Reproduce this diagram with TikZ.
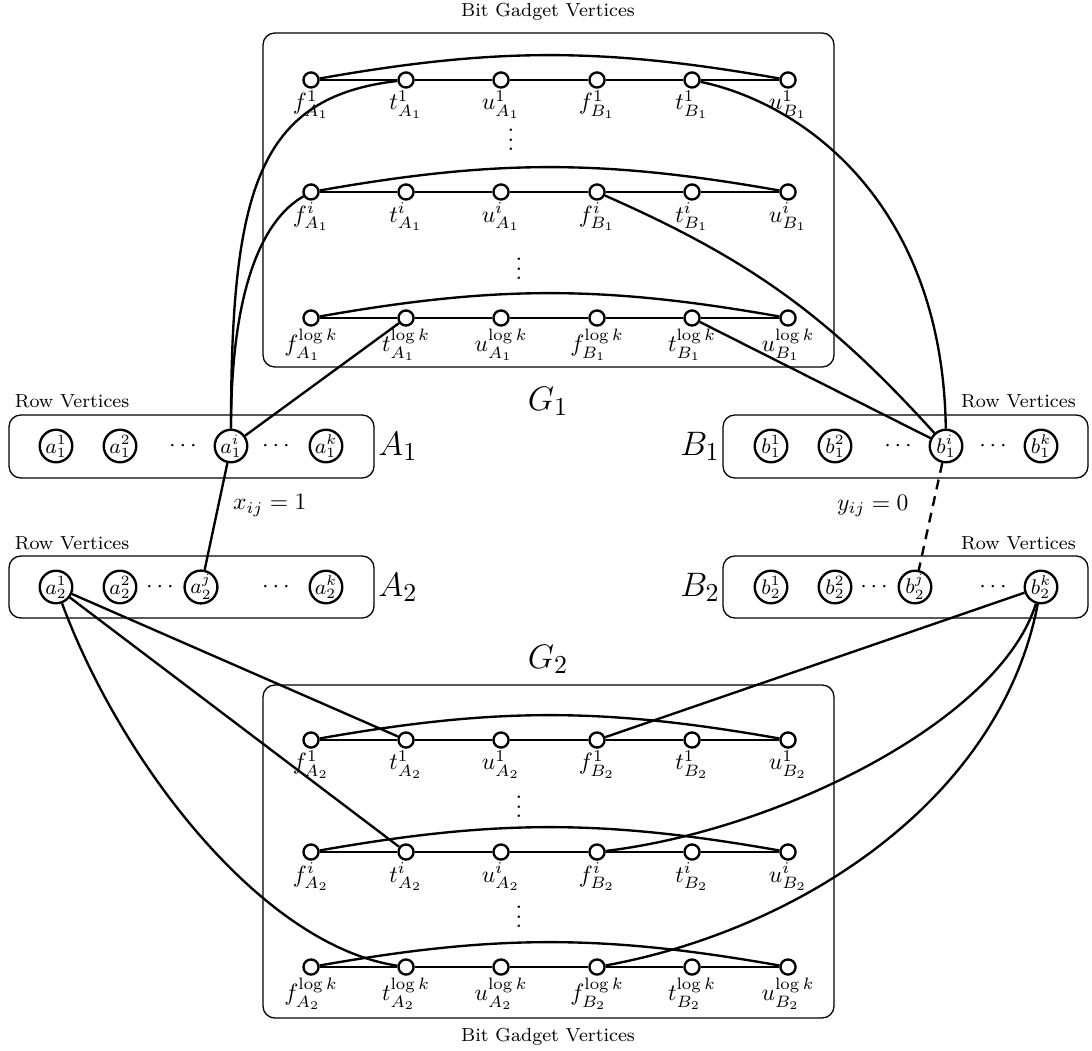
\documentclass[tikz,border=0pt]{standalone}
\begin{document}
\begin{tikzpicture}[x=0.424pt,y=0.424pt,
  gv/.style={circle,draw,fill=white,line width=1pt,minimum size=6.4pt,inner sep=0pt},
  rv/.style={circle,draw,fill=white,line width=1pt,minimum size=13.8pt,inner sep=0pt,font=\small},
  edge/.style={line width=1pt},
  grp/.style={draw,line width=0.55pt,rounded corners=5pt},
  glab/.style={inner sep=0.3pt,label distance=0.3pt},
  ttl/.style={font=\footnotesize},
  bigl/.style={font=\fontsize{15.5}{18}\selectfont},
  dashedge/.style={line width=1pt,dash pattern=on 4.2pt off 3pt}
]
\useasboundingbox (0,0) rectangle (1092,-1050);

% group boxes
\draw[grp] (263,-33) rectangle (834,-367);
\draw[grp] (263,-685) rectangle (834,-1018);
\draw[grp] (9,-415) rectangle (374,-478);
\draw[grp] (9,-556) rectangle (374,-618);
\draw[grp] (723,-415) rectangle (1088,-478);
\draw[grp] (723,-556) rectangle (1088,-618);

% titles
\node[ttl] (tt) at (548,-12) {Bit Gadget Vertices};
\node[ttl] (bt) at (548,-1037) {Bit Gadget Vertices};
\node[ttl] (rva1) at (72,-401) {Row Vertices};
\node[ttl] (rva2) at (72,-543) {Row Vertices};
\node[ttl,anchor=east] (rvb1) at (1084,-401) {Row Vertices};
\node[ttl,anchor=east] (rvb2) at (1084,-543) {Row Vertices};
\node[bigl] (G1) at (548,-401) {$G_1$};
\node[bigl] (G2) at (548,-659) {$G_2$};
\node[bigl] (LA1) at (398,-446) {$A_1$};
\node[bigl] (LA2) at (398,-587) {$A_2$};
\node[bigl] (LB1) at (700,-446) {$B_1$};
\node[bigl] (LB2) at (700,-587) {$B_2$};

% gadget rows
\foreach \r/\y/\s/\m in {ta/80/1/1, tb/192/i/1, tc/318/{\log k}/1, ba/740/1/2, bb/852/i/2, bc/967/{\log k}/2} {
  \node[gv,label={[glab]below:$f^{\s}_{A_{\m}}$}] (\r1) at (311,-\y) {};
  \node[gv,label={[glab]below:$t^{\s}_{A_{\m}}$}] (\r2) at (406,-\y) {};
  \node[gv,label={[glab]below:$u^{\s}_{A_{\m}}$}] (\r3) at (501,-\y) {};
  \node[gv,label={[glab]below:$f^{\s}_{B_{\m}}$}] (\r4) at (597,-\y) {};
  \node[gv,label={[glab]below:$t^{\s}_{B_{\m}}$}] (\r5) at (692,-\y) {};
  \node[gv,label={[glab]below:$u^{\s}_{B_{\m}}$}] (\r6) at (788,-\y) {};
  \draw[edge] (\r1) -- (\r2) -- (\r3) -- (\r4) -- (\r5) -- (\r6);
  \draw[edge] (\r1) to[bend left=10] (\r6);
}
\node (d1) at (511,-133) {$\vdots$};
\node (d2) at (519,-262) {$\vdots$};
\node (d3) at (519,-800) {$\vdots$};
\node (d4) at (519,-910) {$\vdots$};

% row vertices
\node[rv] (a11) at (56,-446) {$a_1^1$};
\node[rv] (a12) at (120,-446) {$a_1^2$};
\node (ad1) at (183,-446) {$\cdots$};
\node[rv] (a1i) at (231,-446) {$a_1^i$};
\node (ad2) at (276,-446) {$\cdots$};
\node[rv] (a1k) at (326,-446) {$a_1^k$};

\node[rv] (a21) at (56,-587) {$a_2^1$};
\node[rv] (a22) at (120,-587) {$a_2^2$};
\node (ad3) at (160,-587) {$\cdots$};
\node[rv] (a2j) at (201,-587) {$a_2^j$};
\node (ad4) at (276,-587) {$\cdots$};
\node[rv] (a2k) at (326,-587) {$a_2^k$};

\node[rv] (b11) at (771,-446) {$b_1^1$};
\node[rv] (b12) at (835,-446) {$b_1^2$};
\node (bd1) at (898,-446) {$\cdots$};
\node[rv] (b1i) at (946,-446) {$b_1^i$};
\node (bd2) at (993,-446) {$\cdots$};
\node[rv] (b1k) at (1041,-446) {$b_1^k$};

\node[rv] (b21) at (771,-587) {$b_2^1$};
\node[rv] (b22) at (835,-587) {$b_2^2$};
\node (bd3) at (874,-587) {$\cdots$};
\node[rv] (b2j) at (915,-587) {$b_2^j$};
\node (bd4) at (993,-587) {$\cdots$};
\node[rv] (b2k) at (1041,-587) {$b_2^k$};

% connectors top
\draw[edge] (a1i) .. controls (231,-190) and (258,-97) .. (ta2);
\draw[edge] (a1i) .. controls (231,-290) and (262,-220) .. (tb1);
\draw[edge] (a1i) -- (tc2);
\draw[edge] (b1i) .. controls (943,-210) and (810,-105) .. (ta5);
\draw[edge] (tb4) to[bend left=12] (b1i);
\draw[edge] (b1i) -- (tc5);

% middle
\draw[edge] (a1i) -- node[right=2.5pt,pos=0.4] (xl) {$x_{ij}=1$} (a2j);
\draw[dashedge] (b1i) -- node[left=6.5pt,pos=0.4] (yl) {$y_{ij}=0$} (b2j);

% connectors bottom
\draw[edge] (a21) -- (ba2);
\draw[edge] (a21) -- (bb2);
\draw[edge] (a21) .. controls (120,-760) and (260,-945) .. (bc2);
\draw[edge] (b2k) -- (ba4);
\draw[edge] (b2k) .. controls (1000,-720) and (780,-830) .. (bb4);
\draw[edge] (b2k) .. controls (1000,-800) and (800,-930) .. (bc4);
\end{tikzpicture}
\end{document}
